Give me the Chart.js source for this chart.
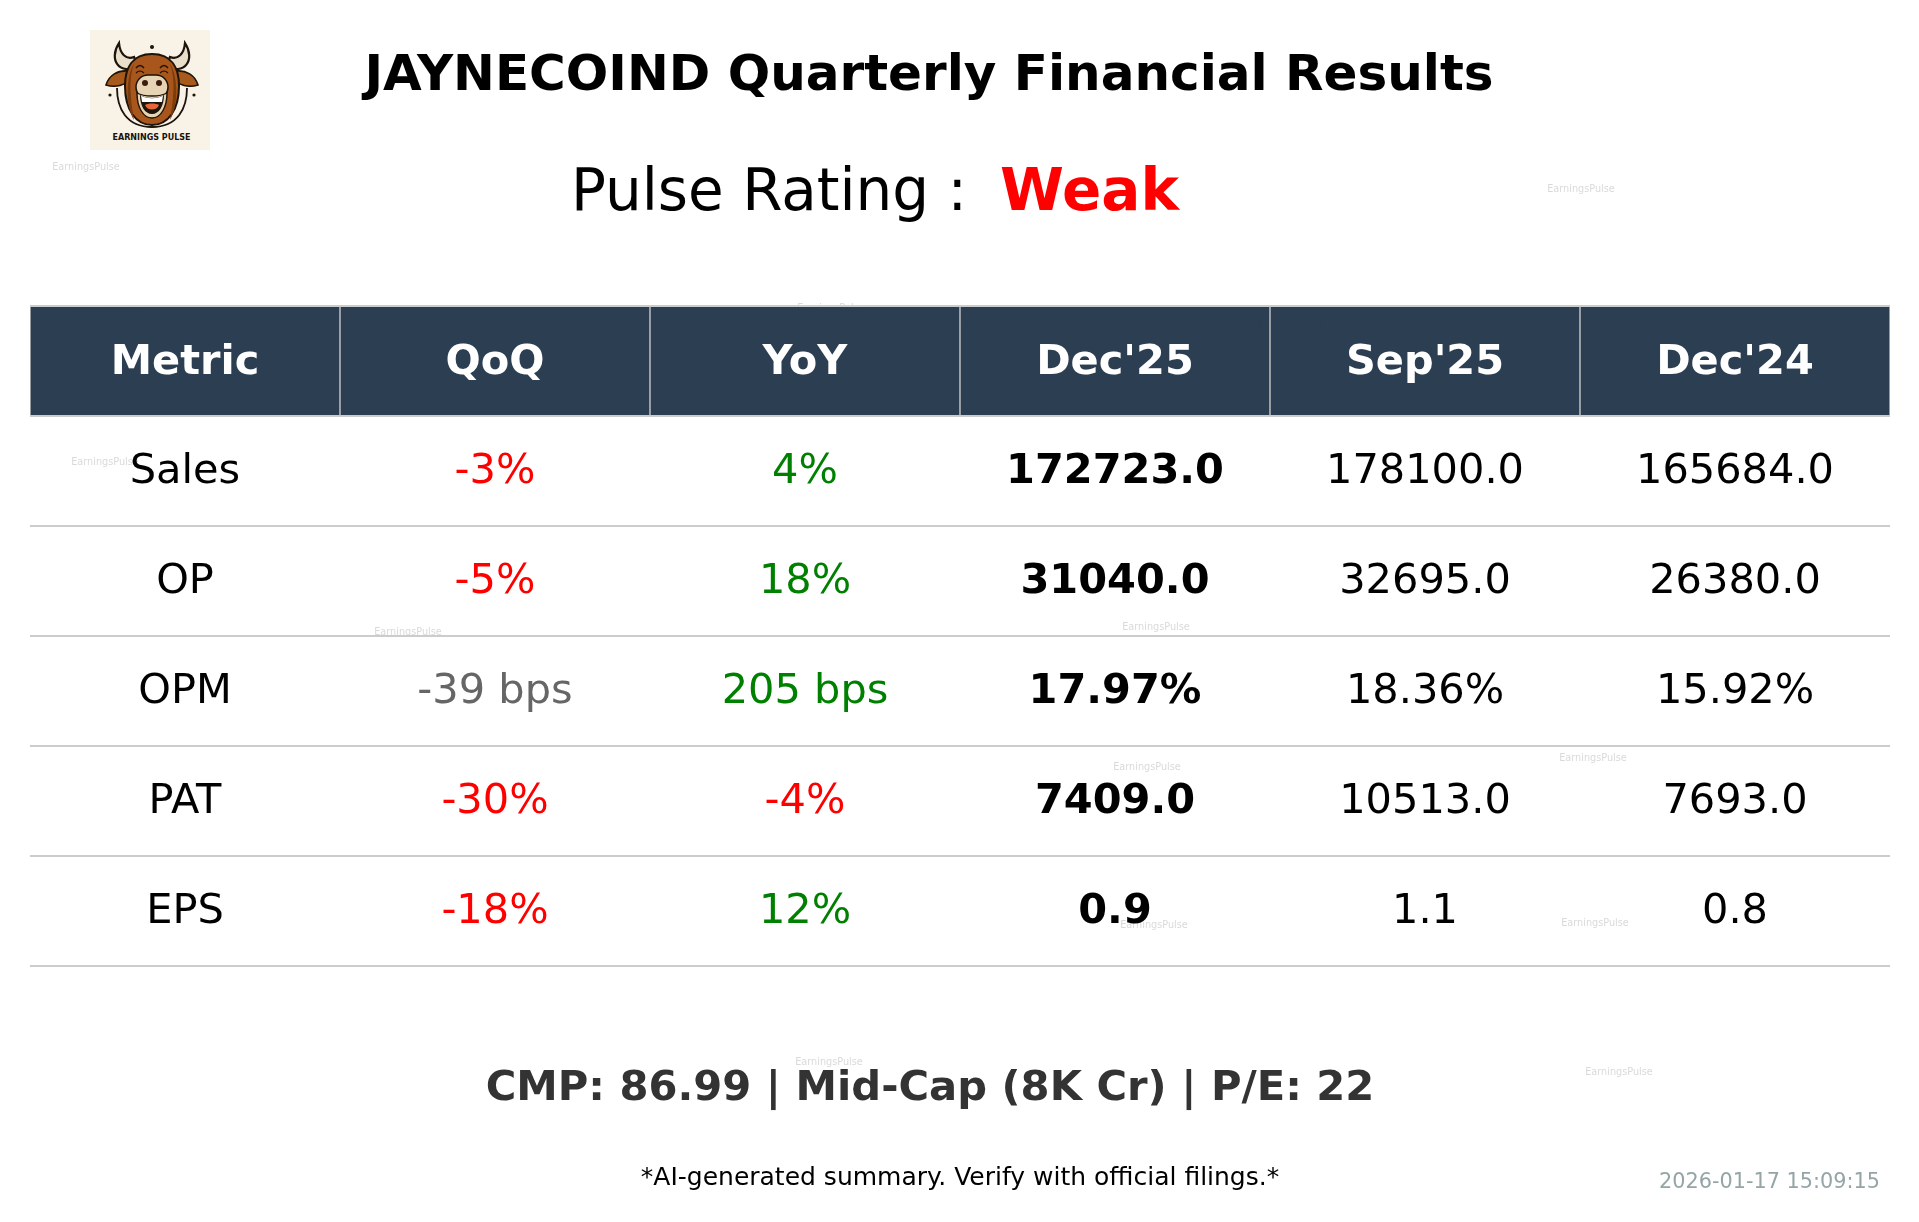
<!DOCTYPE html>
<html>
<head>
<meta charset="utf-8">
<title>JAYNECOIND Quarterly Financial Results</title>
<script src="https://cdn.jsdelivr.net/npm/chart.js@4"></script>
<style>
  html, body { margin: 0; padding: 0; background: #fff; }
  #wrap { position: relative; width: 1919px; height: 1222px; overflow: hidden; }
  #logo { position: absolute; left: 90px; top: 30px; width: 120px; height: 120px; }
</style>
</head>
<body>
<div id="wrap">
  <canvas id="resultsTable" width="1919" height="1222"></canvas>
  <svg id="logo" viewBox="0 0 120 120" xmlns="http://www.w3.org/2000/svg">
    <defs><filter id="soft"><feGaussianBlur stdDeviation="0.35"/></filter></defs>
    <rect width="120" height="120" fill="#f9f3e7"/>
    <g filter="url(#soft)">
      <path d="M29 13 C18 30 30 46 48 36 L44 27 C36 30 30 24 29 13Z" fill="#e9dfcb" stroke="#1a1208" stroke-width="2.2"/>
      <path d="M95 13 C106 30 94 46 76 36 L80 27 C88 30 94 24 95 13Z" fill="#e9dfcb" stroke="#1a1208" stroke-width="2.2"/>
      <path d="M38 41 C28 40 19 45 16 55 C26 58 35 55 40 50Z" fill="#a85a1c" stroke="#1a1208" stroke-width="1.6"/>
      <path d="M86 41 C96 40 105 45 108 55 C98 58 89 55 84 50Z" fill="#a85a1c" stroke="#1a1208" stroke-width="1.6"/>
      <path d="M27 58 C27 78 36 97 62 97 C88 97 97 78 97 58" fill="none" stroke="#1a1208" stroke-width="1.8"/>
      <path d="M62 24 C42 24 35 38 35 56 C35 80 46 95 62 95 C78 95 89 80 89 56 C89 38 82 24 62 24Z" fill="#a9571a" stroke="#1a1208" stroke-width="2"/>
      <path d="M44 90 C41 72 38 50 44 34 C36 45 35 76 44 90Z" fill="#7c3c10"/>
      <path d="M80 90 C83 72 86 50 80 34 C88 45 89 76 80 90Z" fill="#7c3c10"/>
      <path d="M46 38 Q50 33 54 38 M70 38 Q74 33 78 38" fill="none" stroke="#1a1208" stroke-width="1.5"/>
      <path d="M46 43 Q50 39 54 43 M70 43 Q74 39 78 43" fill="none" stroke="#1a1208" stroke-width="1.1"/>
      <rect x="46" y="45" width="32" height="24" rx="12" fill="#e7d4b5" stroke="#1a1208" stroke-width="1.5"/>
      <circle cx="55" cy="53" r="3" fill="#3a1d0c"/>
      <circle cx="69" cy="53" r="3" fill="#3a1d0c"/>
      <path d="M47 63 C54 67 70 67 77 63 C77 77 71 88 62 88 C53 88 47 77 47 63Z" fill="#e7d4b5" stroke="#1a1208" stroke-width="1.4"/>
      <path d="M50 65 C56 69 68 69 74 65 C74 76 69 84 62 84 C55 84 50 76 50 65Z" fill="#1a1208"/>
      <path d="M51 65.5 C56 69 68 69 73 65.5 L72 72 L52 72Z" fill="#ffffff"/>
      <path d="M55 75 C58 73 66 73 69 75 C67 81 57 81 55 75Z" fill="#e8663b"/>
      <circle cx="62" cy="17" r="2" fill="#1a1208"/>
      <circle cx="20" cy="65" r="1.6" fill="#1a1208"/>
      <circle cx="104" cy="65" r="1.6" fill="#1a1208"/>
    </g>
    <text x="61.5" y="110" text-anchor="middle" font-family="DejaVu Sans" font-weight="bold" font-size="8" fill="#1a1208">EARNINGS PULSE</text>
  </svg>
</div>
<script>
const columns = ["Metric", "QoQ", "YoY", "Dec'25", "Sep'25", "Dec'24"];
const metrics = ["Sales", "OP", "OPM", "PAT", "EPS"];
const qoq = ["-3%", "-5%", "-39 bps", "-30%", "-18%"];
const yoy = ["4%", "18%", "205 bps", "-4%", "12%"];
const dec25 = ["172723.0", "31040.0", "17.97%", "7409.0", "0.9"];
const sep25 = ["178100.0", "32695.0", "18.36%", "10513.0", "1.1"];
const dec24 = ["165684.0", "26380.0", "15.92%", "7693.0", "0.8"];

const ticker = "JAYNECOIND";
const rating = "Weak";
const footerLine = "CMP: 86.99 | Mid-Cap (8K Cr) | P/E: 22";
const disclaimer = "*AI-generated summary. Verify with official filings.*";
const stamp = "2026-01-17 15:09:15";

const FONT = '"DejaVu Sans"';
const cellColumns = [metrics, qoq, yoy, dec25, sep25, dec24];
const rowCount = metrics.length + 1;

// change columns go red/green, small bps moves stay grey
function changeColor(txt) {
  const n = parseFloat(txt);
  if (txt.includes("bps") && Math.abs(n) < 50) return "#666666";
  return n < 0 ? "#ff0000" : "#008000";
}

function cellStyle(col, txt) {
  if (col === 1 || col === 2) return { color: changeColor(txt), weight: "" };
  if (col === 3) return { color: "#000000", weight: "bold " };
  return { color: "#000000", weight: "" };
}

// faint watermark stamps scattered over the page
const stamps = [
  [86, 166], [1581, 188], [108, 310], [831, 307], [1000, 325], [1291, 324],
  [105, 461], [408, 631], [1156, 626], [1147, 766], [1593, 757],
  [1154, 924], [1595, 922], [829, 1061], [1619, 1071],
];

function drawText(ctx, txt, x, y, font, color, align) {
  ctx.font = font;
  ctx.fillStyle = color;
  ctx.textAlign = align || "center";
  ctx.textBaseline = "alphabetic";
  ctx.fillText(txt, x, y);
}

const tablePlugin = {
  id: "tableText",
  // stamps go under everything, the header band lets them show through a bit
  beforeDatasetsDraw(chart) {
    const ctx = chart.ctx;
    ctx.save();
    stamps.forEach(([x, y]) => {
      drawText(ctx, "EarningsPulse", x, y + 4, "9.7px " + FONT, "rgba(128,128,128,0.3)");
    });
    ctx.restore();
  },
  afterDatasetsDraw(chart) {
    const ctx = chart.ctx;
    ctx.save();
    chart.data.datasets.forEach((ds, di) => {
      if (ds.type !== "line") return;
      chart.getDatasetMeta(di).data.forEach((pt, col) => {
        const txt = cellColumns[col][ds.rowIndex];
        const st = cellStyle(col, txt);
        drawText(ctx, txt, pt.x, pt.y + 12, st.weight + "41.5px " + FONT, st.color);
      });
    });
    // header labels sit on the bars
    chart.getDatasetMeta(0).data.forEach((bar, col) => {
      drawText(ctx, columns[col], bar.x, (bar.y + bar.base) / 2 + 13, "bold 41.5px " + FONT, "#ffffff");
    });
    ctx.restore();
  },
  afterDraw(chart) {
    const ctx = chart.ctx;
    ctx.save();
    drawText(ctx, ticker + " Quarterly Financial Results", 929, 90, "bold 50px " + FONT, "#000000");
    drawText(ctx, "Pulse Rating :", 571, 210, "58px " + FONT, "#000000", "left");
    drawText(ctx, rating, 1000, 210, "bold 58px " + FONT, "#ff0000", "left");
    drawText(ctx, footerLine, 930, 1100, "bold 41.7px " + FONT, "#333333");
    drawText(ctx, disclaimer, 960, 1185, "25px " + FONT, "#000000");
    drawText(ctx, stamp, 1880, 1188, "20.8px " + FONT, "#95a5a6", "right");
    ctx.restore();
  },
};

new Chart(document.getElementById("resultsTable"), {
  type: "bar",
  data: {
    labels: columns,
    datasets: [
      {
        label: "header",
        data: columns.map(() => [rowCount - 1, rowCount]),
        backgroundColor: "rgba(37,56,75,0.97)",
        borderColor: "#cccccc",
        borderWidth: 1,
        barPercentage: 1,
        categoryPercentage: 1,
        order: 2,
      },
      ...metrics.map((m, i) => ({
        type: "line",
        label: m,
        rowIndex: i,
        data: columns.map(() => rowCount - 1.5 - i),
        showLine: false,
        pointRadius: 0,
        order: 1,
      })),
    ],
  },
  options: {
    responsive: false,
    animation: false,
    devicePixelRatio: 1,
    layout: { padding: { left: 30, right: 29, top: 306, bottom: 256 } },
    plugins: { legend: { display: false }, tooltip: { enabled: false } },
    scales: {
      x: { type: "category", offset: true, display: false },
      y: {
        min: 0,
        max: rowCount,
        grid: { color: "#cccccc", lineWidth: 2, drawTicks: false, z: 1 },
        border: { display: false },
        ticks: { display: false, stepSize: 1 },
      },
    },
  },
  plugins: [tablePlugin],
});
</script>
</body>
</html>
